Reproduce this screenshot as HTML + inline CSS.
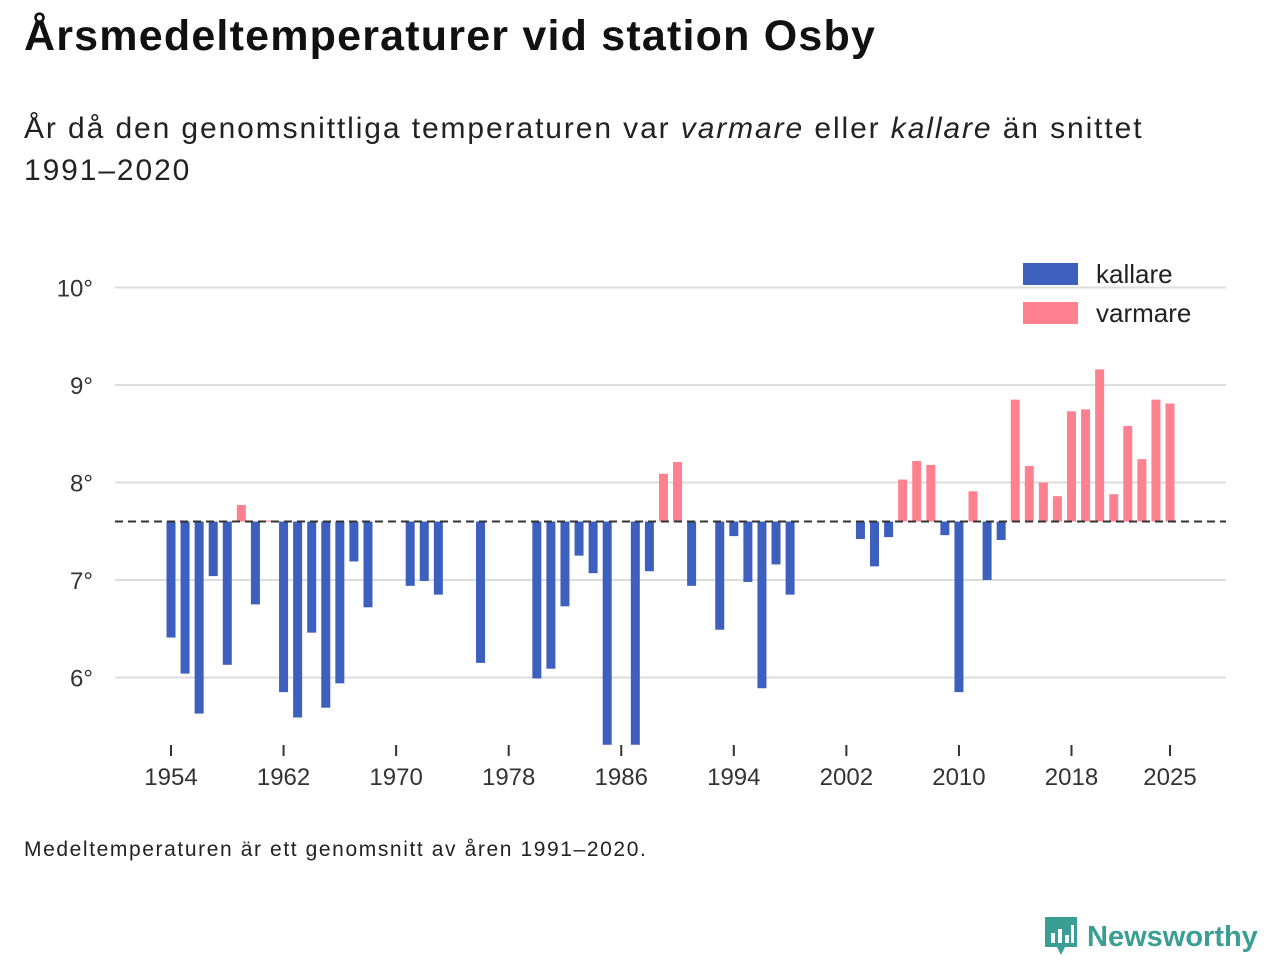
<!DOCTYPE html>
<html><head><meta charset="utf-8"><style>
body{margin:0;background:#fff;font-family:"Liberation Sans","DejaVu Sans",sans-serif;color:#111;}
#wrap{position:relative;width:1280px;height:960px;overflow:hidden;}
h1{position:absolute;left:24px;top:12px;margin:0;font-size:43px;font-weight:bold;letter-spacing:1.2px;}
.sub{position:absolute;left:24px;top:108px;font-size:30px;line-height:42px;color:#222;width:1150px;letter-spacing:1.9px;}
.note{position:absolute;left:24px;top:838px;font-size:21px;color:#222;letter-spacing:1.6px;}
.logo{position:absolute;left:1043px;top:915px;display:flex;align-items:center;gap:8px;color:#3a9e94;font-size:29px;font-weight:bold;}
</style></head><body>
<div id="wrap">
<h1>Årsmedeltemperaturer vid station Osby</h1>
<div class="sub">År då den genomsnittliga temperaturen var <i>varmare</i> eller <i>kallare</i> än snittet 1991–2020</div>
<svg id="chart" width="1280" height="960" style="position:absolute;left:0;top:0"></svg>
<div class="note">Medeltemperaturen är ett genomsnitt av åren 1991–2020.</div>
<div class="logo">
<svg width="36" height="44" viewBox="0 0 36 44"><path d="M2 2h32v30H22l-4 8-4-8H2z" fill="#3a9e94"/><rect x="8" y="18" width="4" height="10" fill="#fff"/><rect x="15" y="14" width="4" height="14" fill="#fff"/><rect x="22" y="20" width="4" height="8" fill="#fff"/><rect x="28" y="10" width="3" height="18" fill="#fff"/></svg>
<span>Newsworthy</span></div>
</div>
<script>
const years=[1954,1955,1956,1957,1958,1959,1960,1961,1962,1963,1964,1965,1966,1967,1968,1971,1972,1973,1976,1980,1981,1982,1983,1984,1985,1987,1988,1989,1990,1991,1993,1994,1995,1996,1997,1998,2003,2004,2005,2006,2007,2008,2009,2010,2011,2012,2013,2014,2015,2016,2017,2018,2019,2020,2021,2022,2023,2024,2025];
const temps=[6.41,6.04,5.63,7.04,6.13,7.77,6.75,7.61,5.85,5.59,6.46,5.69,5.94,7.19,6.72,6.94,6.99,6.85,6.15,5.99,6.09,6.73,7.25,7.07,5.31,5.31,7.09,8.09,8.21,6.94,6.49,7.45,6.98,5.89,7.16,6.85,7.42,7.14,7.44,8.03,8.22,8.18,7.46,5.85,7.91,7.00,7.41,8.85,8.17,8.00,7.86,8.73,8.75,9.16,7.88,8.58,8.24,8.85,8.81];
const baseline=7.6;
const yTicks=[6,7,8,9,10];
const xTicks=[1954,1962,1970,1978,1986,1994,2002,2010,2018,2025];
const svg=document.getElementById('chart');
const NS='http://www.w3.org/2000/svg';
const X=yr=>171+(yr-1954)*(999/71);
const Y=v=>580-(v-7)*97.5;
function mk(t,a){const e=document.createElementNS(NS,t);for(const k in a)e.setAttribute(k,a[k]);svg.appendChild(e);return e;}
yTicks.forEach(t=>{
 const l=mk('line',{x1:115,x2:1226,y1:Y(t),y2:Y(t),stroke:'#ddd','stroke-width':2});
 
 
 const tx=mk('text',{x:93,y:Y(t)+9,'text-anchor':'end','font-size':24,fill:'#333','font-family':'Liberation Sans, sans-serif'});
 tx.textContent=t+'°';
 
 
});
xTicks.forEach(t=>{
 const l=mk('line',{x1:X(t),x2:X(t),y1:745,y2:756,stroke:'#333','stroke-width':2});
 
 
 const tx=mk('text',{x:X(t),y:785,'text-anchor':'middle','font-size':24,fill:'#333','font-family':'Liberation Sans, sans-serif'});
 tx.textContent=t;
 
 
});
years.forEach((yr,i)=>{
 const v=temps[i];const warm=v>=baseline;
 const y1=Y(Math.max(v,baseline)),y2=Y(Math.min(v,baseline));
 const r=mk('rect',{x:X(yr)-4.5,y:y1,width:9,height:Math.max(1,y2-y1),fill:warm?'#ff818f':'#3d5fbd'});
 
 
});
const bl=mk('line',{x1:115,x2:1226,y1:Y(baseline),y2:Y(baseline),stroke:'#333','stroke-width':2,'stroke-dasharray':'8,5'});


const lg=[['kallare','#3d5fbd',274],['varmare','#ff818f',313]];
lg.forEach(([n,c,y])=>{
 const r=mk('rect',{x:1023,y:y-11,width:55,height:22,fill:c});
 
 
 const t=mk('text',{x:1096,y:y+9,'font-size':26,fill:'#222','font-family':'Liberation Sans, sans-serif'});
 t.textContent=n;
 
 
});
</script>
</body></html>
